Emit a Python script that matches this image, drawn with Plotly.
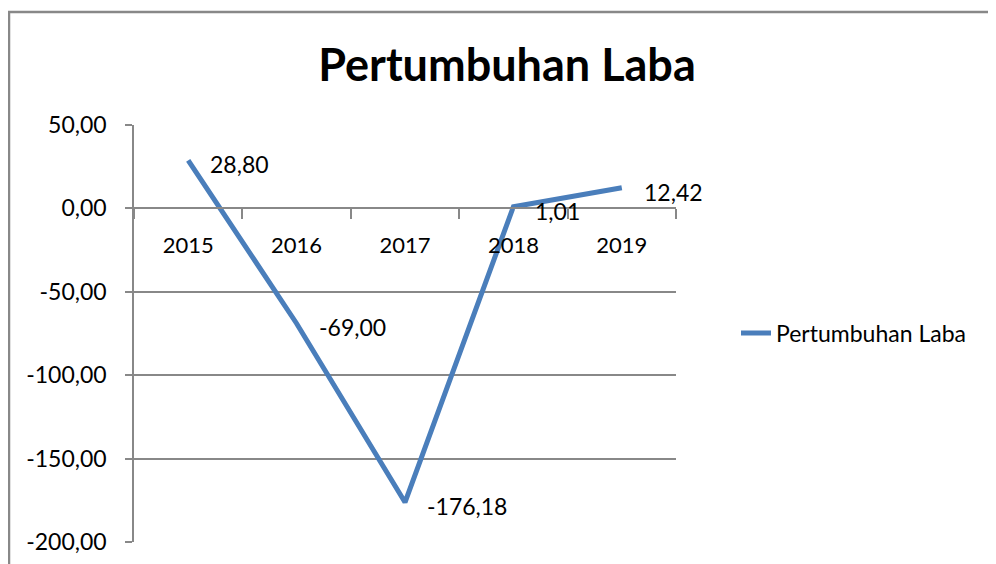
import plotly.graph_objects as go

years = ["2015", "2016", "2017", "2018", "2019"]
growth = [28.80, -69.00, -176.18, 1.01, 12.42]
y_ticks = [50, 0, -50, -100, -150, -200]
y_tick_labels = ["50,00", "0,00", "-50,00", "-100,00", "-150,00", "-200,00"]
series_name = "Pertumbuhan Laba"
title_text = "Pertumbuhan Laba"

labels = [f"{v:.2f}".replace(".", ",") for v in growth]

FONT = "Lato"
GRID = "#888888"
LINE = "#4A7EBB"

# page body has an 8px margin: shift everything up/left by it
OFF = 8
W, H = 996, 564
L, R, T, B = 134 - OFF, 676 - OFF, 125 - OFF, 542 - OFF

ymin, ymax = -200, 50
zero_pos = (0 - ymin) / (ymax - ymin)

fig = go.Figure()
fig.add_trace(go.Scatter(
    x=years, y=growth, mode="lines", name=series_name,
    line=dict(color=LINE, width=5),
    cliponaxis=False,
))

annotations = [
    dict(x=i, y=yv, xref="x", yref="y", text=t, showarrow=False,
         xanchor="left", yanchor="middle", xshift=20, yshift=-4,
         font=dict(family=FONT, size=23, color="#000000"))
    for i, (yv, t) in enumerate(zip(growth, labels))
]

fig.update_layout(
    width=W, height=H,
    margin=dict(l=L, r=W - R, t=T, b=H - B, pad=0),
    paper_bgcolor="white", plot_bgcolor="white",
    font=dict(family=FONT, color="#000000"),
    title=dict(text=title_text, x=(507 - OFF - L) / (R - L), xref="paper", xanchor="center",
               y=1 - (65 - OFF) / H, yanchor="middle",
               font=dict(family=FONT, size=45, color="#000000", weight="bold")),
    showlegend=True,
    legend=dict(x=(736 - OFF - L) / (R - L), y=(B - (333 - OFF)) / (B - T),
                xanchor="left", yanchor="middle",
                font=dict(family=FONT, size=23, color="#000000"),
                bgcolor="rgba(0,0,0,0)", borderwidth=0),
    annotations=annotations,
    xaxis=dict(type="category", anchor="free", position=zero_pos,
               showline=True, linecolor=GRID, linewidth=1.5,
               ticks="outside", tickson="boundaries", ticklen=10, tickwidth=1.5, tickcolor=GRID,
               showgrid=False, zeroline=False,
               tickfont=dict(family=FONT, size=22, color="#000000"),
               ticklabelstandoff=17, range=[-0.5, 4.5]),
    yaxis=dict(range=[ymin, ymax], tickvals=y_ticks, ticktext=y_tick_labels,
               showline=True, linecolor=GRID, linewidth=1.5,
               ticks="outside", ticklen=7, tickwidth=1.5, tickcolor=GRID,
               showgrid=True, gridcolor=GRID, gridwidth=1.5, zeroline=False,
               tickfont=dict(family=FONT, size=23, color="#000000"),
               ticklabelstandoff=14),
    shapes=[dict(type="rect", xref="paper", yref="paper",
                 x0=(9 - OFF - L) / (R - L), x1=2.0, y0=-1.0, y1=(B - (12 - OFF)) / (B - T),
                 line=dict(color=GRID, width=2.5), fillcolor="rgba(0,0,0,0)", layer="below")],
)

fig.write_html("out.html")
